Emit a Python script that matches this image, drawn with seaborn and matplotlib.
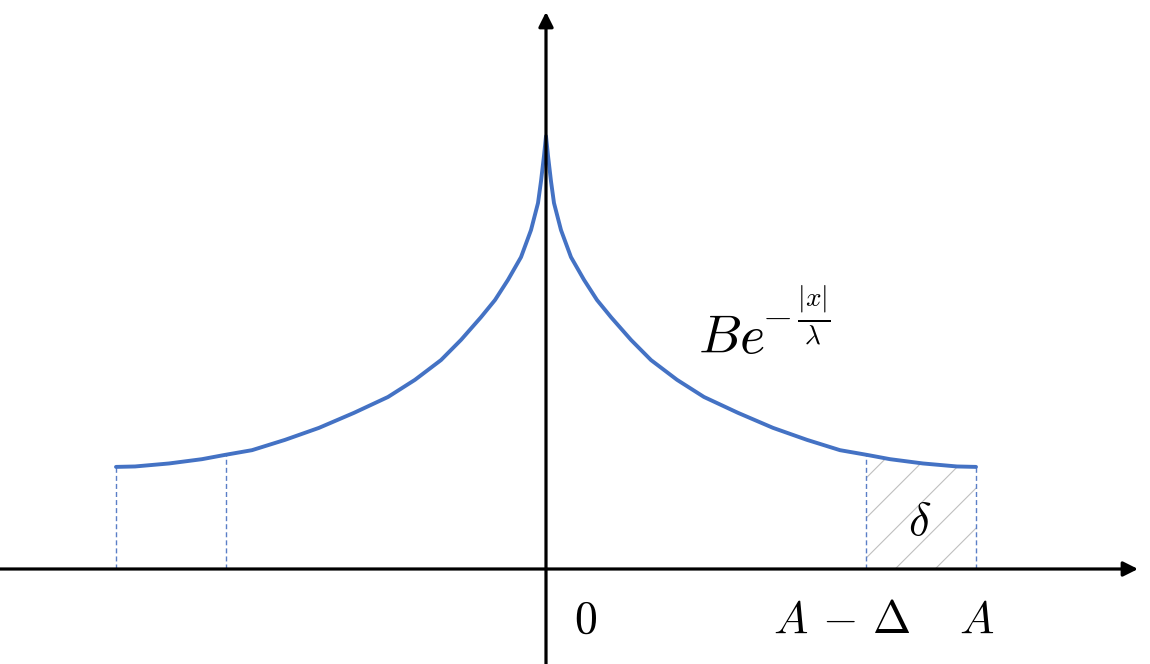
import numpy as np
import pandas as pd
import matplotlib
matplotlib.use("Agg")
import matplotlib.pyplot as plt
import seaborn as sns

# ---------------------------------------------------
# tocke krivulje B*exp(-|x|/lambda), desna polovica (x u jedinicama A, y u jedinicama B)
# ---------------------------------------------------
x_right = [0.0, 0.0047, 0.0116, 0.0186, 0.0349, 0.0581, 0.0884, 0.1186,
           0.1512, 0.1977, 0.2442, 0.3047, 0.3674, 0.4465, 0.5279, 0.6070,
           0.6837, 0.7465, 0.8000, 0.8767, 0.9558, 1.0]
y_right = [1.009, 0.963, 0.904, 0.853, 0.790, 0.727, 0.674, 0.627,
           0.587, 0.534, 0.487, 0.441, 0.401, 0.364, 0.329, 0.301,
           0.277, 0.266, 0.256, 0.246, 0.239, 0.238]

A = 1.0
A_minus_delta = 0.744
x_marks = [-A, -A_minus_delta, A_minus_delta, A]

tick_labels = ["$0$", r"$A\,-\,\Delta$", "$A$"]
tick_label_x = [0.0907, 0.687, 1.002]

# ---------------------------------------------------
# crtanje
# ---------------------------------------------------
sns.set_style("white")
plt.rcParams["mathtext.fontset"] = "cm"

xr = np.array(x_right)
yr = np.array(y_right)
df = pd.DataFrame({
    "x": np.concatenate([-xr[::-1], xr[1:]]),
    "y": np.concatenate([yr[::-1], yr[1:]]),
})

fig = plt.figure(figsize=(11.5, 6.64), dpi=100)
ax = fig.add_axes([0, 0, 1, 1])
ax.set_xlim(-546 / 430, 604 / 430)
ax.set_ylim(-95 / 429, 569 / 429)
ax.axis("off")

blue = "#4472C4"
sns.lineplot(data=df, x="x", y="y", ax=ax, color=blue, lw=2.8, sort=False,
             solid_joinstyle="round", zorder=4)


def curve(xv):
    return np.interp(abs(xv), xr, yr)


# isprekidane okomite linije
for xm in x_marks:
    ax.plot([xm, xm], [0, curve(xm)], ls=(0, (3.6, 2.2)), lw=1.0,
            color="#5b7fc7", zorder=2)

# srafirano podrucje delta
mask = xr > A_minus_delta
xs = np.concatenate([[A_minus_delta], xr[mask]])
ys = np.concatenate([[curve(A_minus_delta)], yr[mask]])
poly = ax.fill_between(xs, 0, ys, color="none", lw=0)
path = poly.get_paths()[0]
sx = 1 / 430.0
sy = 1 / 429.0
for k in range(-12, 4):
    x0 = 0.812 + k * 40 * sx
    ln, = ax.plot([x0, x0 + 300 * sx], [0, 300 * sy], color="#bfbfbf",
                  lw=0.8, zorder=1)
    ln.set_clip_path(path, ax.transData)

# osi sa strelicama
arrow = dict(arrowstyle="-|>", color="black", lw=2.3, mutation_scale=22,
             shrinkA=0, shrinkB=0)
ax.annotate("", xy=(592 * sx, 0), xytext=(-546 * sx, 0), arrowprops=arrow,
            zorder=5)
ax.annotate("", xy=(0, 557 * sy), xytext=(0, -95 * sy), arrowprops=arrow,
            zorder=5)

# oznake
for xt, lab in zip(tick_label_x, tick_labels):
    ax.text(xt, -0.149, lab, ha="center", va="baseline", fontsize=33,
            color="black")

ax.text(0.3535, 0.5035, r"$Be$", ha="left", va="baseline", fontsize=39,
        color="black")
ax.text(0.502, 0.5897, r"$-\,\frac{|x|}{\lambda}$", ha="left", va="center",
        fontsize=28, color="black")
ax.text(0.870, 0.079, r"$\delta$", ha="center", va="baseline", fontsize=34,
        color="black")

fig.savefig("out.png", dpi=100)
